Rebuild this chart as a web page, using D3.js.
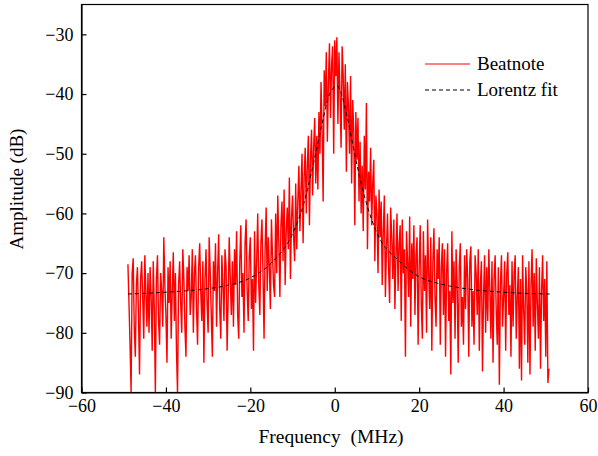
<!DOCTYPE html>
<html>
<head>
<meta charset="utf-8">
<script src="https://cdn.jsdelivr.net/npm/d3@7"></script>
<style>
  body { margin: 0; background: #fff; }
  svg text { font-family: "Liberation Serif", "Times New Roman", Times, "DejaVu Serif", serif; fill: #000; }
</style>
</head>
<body>
<script>
  var width = 598;
  var height = 456;
  var serif = "'Liberation Serif', 'Times New Roman', Times, 'DejaVu Serif', serif";

  // beatnote trace, sampled from -49 MHz with 0.25 MHz step (values in dB)
  var beatStart = -49;
  var beatStep = 0.25;
  var beatValues = [
    -68.5, -75, -82, -90, -70, -67.5, -79, -84, -72, -69, -77, -87, -71, -68, -74, -81, -67, -73, -79, -70,
    -80, -69, -74, -83, -68, -76, -90, -71, -67, -78, -82, -70, -73, -79, -64, -72, -77, -85, -69, -75,
    -68, -81, -73, -66.5, -78, -70, -83, -90, -72, -68, -75, -80, -66, -71, -79, -84, -69, -73, -67, -77,
    -74, -66, -80, -70, -67, -76, -82, -69, -65, -73, -78, -68, -85, -71, -66, -75, -80, -64, -70, -77,
    -84, -68, -73, -65, -79, -70, -63.5, -76, -81, -67, -72, -78, -66, -69, -83, -74, -64, -71, -77, -68,
    -79, -66, -72, -63, -77, -81, -68, -62, -74, -70, -80, -65, -61, -73, -78, -67, -64, -76, -71, -83,
    -63, -75, -68, -60, -72, -77, -65, -61, -70, -81, -66, -59, -73, -64, -69, -76, -61, -67, -72, -74,
    -60, -70, -57, -65, -74, -62, -58, -68, -56, -72, -63, -59, -66, -54, -71, -61, -57, -64, -68, -55,
    -66, -58, -52, -63, -56, -50, -65, -54, -49, -60, -52, -47, -62, -51, -46, -57, -49, -44, -55, -47,
    -56, -43, -50, -38, -46, -58, -36, -42, -33, -48, -38, -31.5, -44, -35, -32, -50, -31, -37, -30.5, -45,
    -33, -40, -49, -32, -37, -46, -35, -53, -38, -42, -50, -37, -55, -41, -46, -62, -43, -51, -44, -58,
    -48, -60, -52, -63, -47, -56, -41.5, -66, -53, -58, -49, -62, -55, -51, -68, -57, -60, -70, -56, -64,
    -58, -72, -63, -57, -74, -66, -60, -69, -75, -59, -64, -71, -61, -76, -67, -60, -73, -65, -62, -78,
    -61, -70, -66, -84, -63, -68, -74, -60.5, -79, -65, -71, -62, -77, -67, -64, -82, -69, -62, -75, -81,
    -63, -73, -67, -80, -61, -70, -76, -64, -83, -68, -62.5, -74, -79, -66, -71, -64, -82, -69, -65, -77,
    -66, -84, -70, -65, -78, -73, -87, -63, -75, -68, -81, -66, -72, -85, -69, -65, -79, -74, -82, -67,
    -76, -66, -71, -84, -68, -65.5, -79, -73, -82, -67, -70, -77, -66, -83, -72, -68, -86.5, -74, -67, -80,
    -69, -78, -66, -73, -81, -68, -85, -71, -67, -76, -82, -69, -88.7, -72, -67, -79, -74, -68, -83, -70,
    -66.5, -77, -72, -84, -68, -79, -70, -67, -81, -74, -69, -86, -71, -88, -67, -76, -82, -69, -73, -85,
    -68, -87, -72, -66, -79, -70, -83, -67.5, -75, -81, -69, -86, -73, -67, -78, -71, -84, -68, -88.4, -86
  ];

  // Lorentz fit
  var fitFreq = [-49, -40, -30, -25, -20, -15, -10, -7, -5, -3, -1.5, 0, 0.5, 1.5, 3, 5, 7, 10, 15, 20, 25, 30, 40, 51];
  var fitAmp = [-73.5, -73.2, -72.6, -72.0, -70.8, -68.3, -63.4, -57.5, -51.5, -45, -40.5, -38.8, -38.6, -39.8, -44, -51, -57, -63.3, -67.8, -70.6, -71.8, -72.5, -73.2, -73.5];

  var xTicks = [-60, -40, -20, 0, 20, 40, 60];
  var yTicks = [-90, -80, -70, -60, -50, -40, -30];

  var x = d3.scaleLinear().domain([-60, 60]).range([81.5, 588]);
  var y = d3.scaleLinear().domain([-90, -25]).range([392.5, 4.5]);

  var svg = d3.select("body")
    .append("svg")
    .attr("width", width)
    .attr("height", height)
    .attr("font-family", serif);

  var beat = beatValues.map(function(v, i) { return [beatStart + i * beatStep, v]; });
  var fit = fitFreq.map(function(f, i) { return [f, fitAmp[i]]; });

  var line = d3.line()
    .x(function(d) { return x(d[0]); })
    .y(function(d) { return y(d[1]); });

  svg.append("path")
    .datum(beat)
    .attr("d", line)
    .style("fill", "none")
    .style("stroke", "#ff0000")
    .style("stroke-width", 1.4)
    .style("stroke-linejoin", "miter")
    .style("stroke-miterlimit", 2);

  svg.append("path")
    .datum(fit)
    .attr("d", line.curve(d3.curveMonotoneX))
    .style("fill", "none")
    .style("stroke", "#000")
    .style("stroke-width", 1)
    .style("stroke-dasharray", "4,3");

  // frame
  svg.append("rect")
    .attr("x", 81.5)
    .attr("y", 4.5)
    .attr("width", 588 - 81.5)
    .attr("height", 392.5 - 4.5)
    .style("fill", "none")
    .style("stroke", "#000")
    .style("stroke-width", 1.2);

  var xAxis = svg.append("g")
    .attr("transform", "translate(0,392.5)")
    .call(d3.axisBottom(x).tickValues(xTicks).tickSizeInner(-5).tickSizeOuter(0).tickPadding(7));

  var yAxis = svg.append("g")
    .attr("transform", "translate(81.5,0)")
    .call(d3.axisLeft(y).tickValues(yTicks).tickSizeInner(-5).tickSizeOuter(0).tickPadding(8));

  [xAxis, yAxis].forEach(function(g) {
    g.attr("font-family", serif).attr("font-size", 18);
    g.select(".domain").style("stroke", "#000").style("stroke-width", 1.2);
    g.selectAll(".tick line").style("stroke", "#000").style("stroke-width", 1.2);
    g.selectAll(".tick text")
      .style("font-family", serif)
      .style("font-size", "18px")
      .style("fill", "#000");
  });

  svg.append("text")
    .attr("x", 331)
    .attr("y", 443)
    .attr("text-anchor", "middle")
    .style("font-family", serif)
    .style("font-size", "19.5px")
    .style("white-space", "pre")
    .text("Frequency  (MHz)");

  svg.append("text")
    .attr("transform", "translate(23,189) rotate(-90)")
    .attr("text-anchor", "middle")
    .style("font-family", serif)
    .style("font-size", "19px")
    .text("Amplitude (dB)");

  // legend
  var legendItems = [
    { label: "Beatnote", color: "#ff0000", dash: null, y: 64 },
    { label: "Lorentz fit", color: "#000", dash: "4,3", y: 90 }
  ];

  var legend = svg.selectAll(".legend")
    .data(legendItems)
    .enter()
    .append("g")
    .attr("class", "legend");

  legend.append("line")
    .attr("x1", 425)
    .attr("x2", 470)
    .attr("y1", function(d) { return d.y; })
    .attr("y2", function(d) { return d.y; })
    .style("stroke", function(d) { return d.color; })
    .style("stroke-width", 1)
    .style("stroke-dasharray", function(d) { return d.dash; });

  legend.append("text")
    .attr("x", 477)
    .attr("y", function(d) { return d.y + 6; })
    .style("font-family", serif)
    .style("font-size", "19px")
    .text(function(d) { return d.label; });
</script>
</body>
</html>
